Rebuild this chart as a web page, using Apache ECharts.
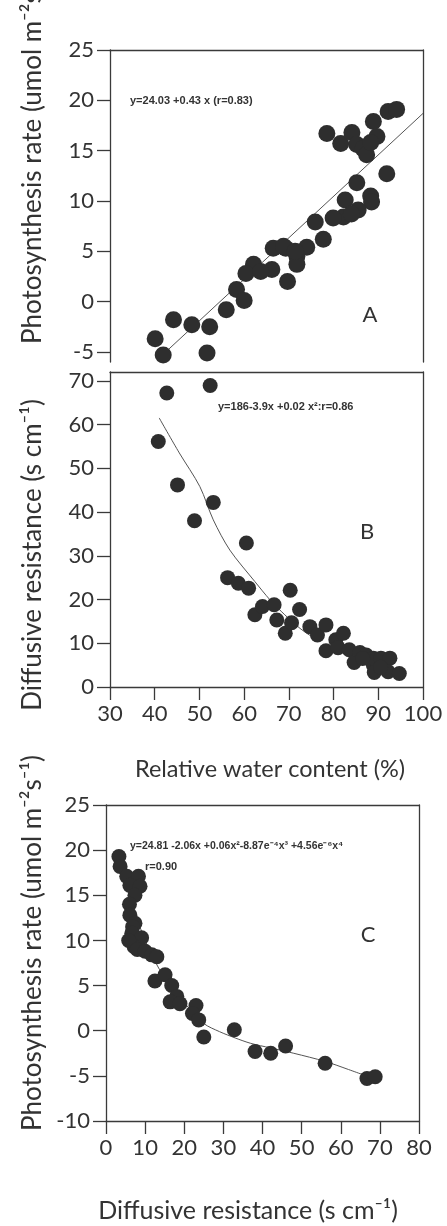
<!DOCTYPE html>
<html><head><meta charset="utf-8">
<script src="https://cdn.jsdelivr.net/npm/echarts@6/dist/echarts.min.js"></script>
<style>html,body{margin:0;padding:0;background:#fff}#c{width:447px;height:1226px}</style>
</head><body><div id="c"></div>
<script>
// ---- Panel A: photosynthesis vs relative water content ----
const aRWC   = [78.5,81.6,84.1,85.2,86.6,87.4,88.9,89.7,88.3,92.2,94.1,85.2,91.9,88.3,88.5,82.6,85.5,82.2,79.9,84.0,75.9,77.7,74.0,71.8,71.8,69.3,66.5,68.8,71.4,69.7,66.2,62.1,60.4,63.7,58.3,60.0,56.0,52.3,48.3,44.2,40.1,41.9,51.7];
const aPhoto = [16.7,15.7,16.8,15.6,15.2,14.6,17.9,16.4,15.8,18.9,19.1,11.8,12.7,10.5,9.9,10.1,9.1,8.4,8.3,8.7,7.9,6.2,5.4,4.5,3.7,5.3,5.3,5.5,5.0,2.0,3.2,3.7,2.8,3.0,1.2,0.1,-0.8,-2.5,-2.3,-1.8,-3.7,-5.3,-5.1];
const aFitX = [41.5, 100];
const aFitY = [-5.4, 18.7];
// ---- Panel B: diffusive resistance vs relative water content ----
const bRWC    = [42.7,52.4,40.8,45.1,53.1,48.9,60.5,56.3,58.7,61.0,70.3,62.4,64.1,66.7,67.3,69.2,70.6,72.4,74.7,76.4,78.3,78.3,80.5,82.2,81.0,83.5,84.6,85.9,87.3,88.9,88.9,90.6,89.1,92.6,92.2,94.7,86.5,90.5];
const bResist = [67.2,68.9,56.1,46.2,42.2,38.0,32.9,25.0,23.7,22.6,22.1,16.5,18.4,18.8,15.3,12.3,14.7,17.7,13.8,11.9,14.2,8.3,10.8,12.3,9.0,8.5,5.6,7.9,7.3,5.0,6.6,6.6,3.3,6.6,3.5,3.1,6.5,4.5];
const bFitX = [41.0,45.5,50.1,53.1,56.8,62.4,65.8,69.1,72.5,76.0];
const bFitY = [61.5,53.5,45.8,38.2,31.3,24.1,19.9,16.5,13.4,10.9];
// ---- Panel C: photosynthesis vs diffusive resistance ----
const cResist = [3.3,3.6,5.3,8.3,6.1,8.7,7.4,6.0,6.1,7.4,6.8,6.6,9.1,7.2,5.8,8.0,10.0,11.7,13.0,12.5,15.1,16.8,18.1,16.4,18.9,23.0,22.1,23.7,25.0,32.8,38.1,42.1,45.9,56.0,66.7,68.8];
const cPhoto  = [19.3,18.2,17.1,17.1,16.1,16.0,15.0,14.0,12.8,11.9,11.5,10.8,10.3,9.3,10.0,9.0,8.8,8.4,8.2,5.5,6.2,5.0,3.8,3.2,3.0,2.8,1.9,1.2,-0.7,0.1,-2.3,-2.5,-1.7,-3.6,-5.3,-5.1];
const cFitX = [3,5,7,10,13,16,20,25,29,33,37,42,48,56,62,69];
const cFitY = [19.6,16.6,13.6,10.0,7.3,5.2,3.1,0.8,-0.1,-0.8,-1.4,-1.9,-2.5,-3.4,-4.3,-5.4];
// ---- tick labels ----
const aYTicks = [-5,0,5,10,15,20,25];
const bYTicks = [0,10,20,30,40,50,60,70];
const titles = {
  photo: 'Photosynthesis rate (umol m⁻²s⁻¹)',
  resist: 'Diffusive resistance (s cm⁻¹)',
  rwc: 'Relative water content (%)'
};
const eqA = 'y=24.03 +0.43 x (r=0.83)';
const eqB = 'y=186-3.9x +0.02 x²:r=0.86';
const eqC1 = 'y=24.81 -2.06x +0.06x²-8.87e⁻⁴x³ +4.56e⁻⁶x⁴';
const eqC2 = 'r=0.90';

const zip = (xs, ys) => xs.map((x, i) => [x, ys[i]]);
const AX = '#3a3a3a', DOT = '#2e2e2e', TXT = '#333';
const FONT = 'Lato, "Open Sans", sans-serif';
const lbl = {color: TXT, fontSize: 22, fontFamily: FONT, margin: 16};
const line = {show: true, onZero: false, lineStyle: {color: AX, width: 1.3}};
const tick = {show: true, inside: false, length: 13, lineStyle: {color: AX, width: 1.3}};

function frameAxes(grid, min, max) {
  return {gridIndex: grid, type: 'value', min, max, axisLine: line, axisTick: {show: false}, axisLabel: {show: false}, splitLine: {show: false}};
}

const chart = echarts.init(document.getElementById('c'), null, {renderer: 'canvas'});
chart.setOption({
  backgroundColor: '#fff',
  animation: false,
  grid: [
    {left: 110, top: 50, width: 313, height: 312, outerBoundsMode: 'none'},
    {left: 110, top: 372, width: 313, height: 315, outerBoundsMode: 'none'},
    {left: 106, top: 805, width: 313, height: 316, outerBoundsMode: 'none'}
  ],
  xAxis: [
    Object.assign(frameAxes(0, 30, 100), {position: 'top'}),
    {gridIndex: 1, type: 'value', min: 30, max: 100, interval: 10, position: 'bottom', axisLine: line, axisTick: tick, axisLabel: lbl, splitLine: {show: false}},
    Object.assign(frameAxes(1, 30, 100), {position: 'top'}),
    {gridIndex: 2, type: 'value', min: 0, max: 80, interval: 10, position: 'bottom', axisLine: line, axisTick: tick, axisLabel: lbl, splitLine: {show: false}},
    Object.assign(frameAxes(2, 0, 80), {position: 'top'})
  ],
  yAxis: [
    {gridIndex: 0, type: 'value', min: -6, max: 25, position: 'left', axisLine: line,
     axisTick: Object.assign({customValues: aYTicks}, tick), axisLabel: Object.assign({customValues: aYTicks}, lbl), splitLine: {show: false}},
    Object.assign(frameAxes(0, -6, 25), {position: 'right'}),
    {gridIndex: 1, type: 'value', min: 0, max: 72, position: 'left', axisLine: line,
     axisTick: Object.assign({customValues: bYTicks}, tick), axisLabel: Object.assign({customValues: bYTicks}, lbl), splitLine: {show: false}},
    Object.assign(frameAxes(1, 0, 72), {position: 'right'}),
    {gridIndex: 2, type: 'value', min: -10, max: 25, interval: 5, position: 'left', axisLine: line, axisTick: tick, axisLabel: lbl, splitLine: {show: false}},
    Object.assign(frameAxes(2, -10, 25), {position: 'right'})
  ],
  series: [
    {type: 'line', xAxisIndex: 0, yAxisIndex: 0, data: zip(aFitX, aFitY), showSymbol: false, lineStyle: {color: '#555', width: 1}, z: 1},
    {type: 'scatter', xAxisIndex: 0, yAxisIndex: 0, data: zip(aRWC, aPhoto), symbolSize: 17, itemStyle: {color: DOT, opacity: 1}, z: 2},
    {type: 'line', xAxisIndex: 1, yAxisIndex: 2, data: zip(bFitX, bFitY), showSymbol: false, smooth: 0.3, lineStyle: {color: '#555', width: 1}, z: 1},
    {type: 'scatter', xAxisIndex: 1, yAxisIndex: 2, data: zip(bRWC, bResist), symbolSize: 15, itemStyle: {color: DOT, opacity: 1}, z: 2},
    {type: 'line', xAxisIndex: 3, yAxisIndex: 4, data: zip(cFitX, cFitY), showSymbol: false, smooth: 0.3, lineStyle: {color: '#555', width: 1}, z: 1},
    {type: 'scatter', xAxisIndex: 3, yAxisIndex: 4, data: zip(cResist, cPhoto), symbolSize: 15, itemStyle: {color: DOT, opacity: 1}, z: 2}
  ],
  graphic: [
    {type: 'text', x: 33, y: 156, rotation: Math.PI / 2, style: {text: titles.photo, fontSize: 26, fontFamily: FONT, fill: TXT, align: 'center', verticalAlign: 'middle'}},
    {type: 'text', x: 33, y: 555, rotation: Math.PI / 2, style: {text: titles.resist, fontSize: 26, fontFamily: FONT, fill: TXT, align: 'center', verticalAlign: 'middle'}},
    {type: 'text', x: 33, y: 943, rotation: Math.PI / 2, style: {text: titles.photo, fontSize: 26, fontFamily: FONT, fill: TXT, align: 'center', verticalAlign: 'middle'}},
    {type: 'text', x: 270, y: 769, style: {text: titles.rwc, fontSize: 23.5, fontFamily: FONT, fill: TXT, align: 'center', verticalAlign: 'middle'}},
    {type: 'text', x: 248, y: 1211, style: {text: titles.resist, fontSize: 25, fontFamily: FONT, fill: TXT, align: 'center', verticalAlign: 'middle'}},
    {type: 'text', x: 370, y: 315, style: {text: 'A', fontSize: 22, fontFamily: FONT, fill: TXT, align: 'center', verticalAlign: 'middle'}},
    {type: 'text', x: 367, y: 532, style: {text: 'B', fontSize: 22, fontFamily: FONT, fill: TXT, align: 'center', verticalAlign: 'middle'}},
    {type: 'text', x: 368, y: 935, style: {text: 'C', fontSize: 22, fontFamily: FONT, fill: TXT, align: 'center', verticalAlign: 'middle'}},
    {type: 'text', x: 130, y: 101, style: {text: eqA, fontSize: 11, fontWeight: 'bold', fontFamily: '"Liberation Sans", sans-serif', fill: TXT, align: 'left', verticalAlign: 'middle'}},
    {type: 'text', x: 218, y: 407, style: {text: eqB, fontSize: 11, fontWeight: 'bold', fontFamily: '"Liberation Sans", sans-serif', fill: TXT, align: 'left', verticalAlign: 'middle'}},
    {type: 'text', x: 130, y: 846, style: {text: eqC1, fontSize: 10.5, fontWeight: 'bold', fontFamily: '"Liberation Sans", sans-serif', fill: TXT, align: 'left', verticalAlign: 'middle'}},
    {type: 'text', x: 145, y: 867, style: {text: eqC2, fontSize: 11, fontWeight: 'bold', fontFamily: '"Liberation Sans", sans-serif', fill: TXT, align: 'left', verticalAlign: 'middle'}}
  ]
});
</script></body></html>
